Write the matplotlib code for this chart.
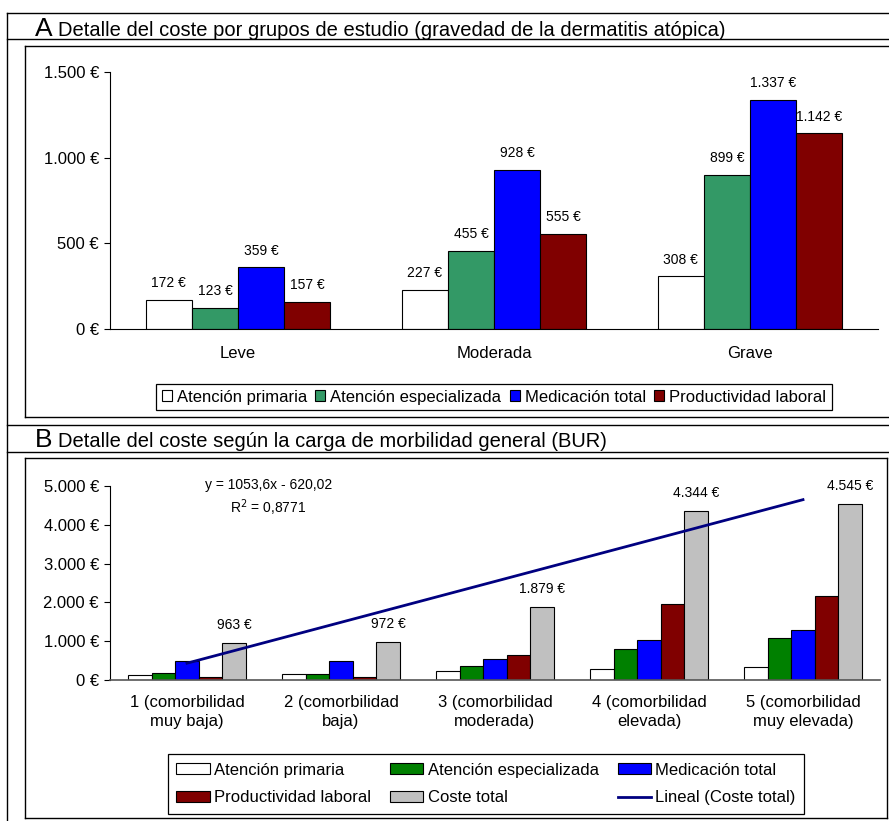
import matplotlib
matplotlib.use("Agg")
import matplotlib.pyplot as plt
from matplotlib.lines import Line2D
from matplotlib.patches import Patch
from matplotlib.ticker import FuncFormatter, MultipleLocator
import numpy as np

plt.rcParams.update({
    "font.family": ["Liberation Sans", "DejaVu Sans"],
    "font.size": 12,
    "axes.spines.top": False,
    "axes.spines.right": False,
})

W, H = 889, 821  # output size in pixels

# --- panel A: cost by severity of atopic dermatitis ---
SEVERITY = ["Leve", "Moderada", "Grave"]
A_PRIMARIA = [172, 227, 308]
A_ESPECIALIZADA = [123, 455, 899]
A_MEDICACION = [359, 928, 1337]
A_PRODUCTIVIDAD = [157, 555, 1142]

# --- panel B: cost by general morbidity burden (BUR) ---
BUR = ["1 (comorbilidad\nmuy baja)", "2 (comorbilidad\nbaja)", "3 (comorbilidad\nmoderada)",
       "4 (comorbilidad\nelevada)", "5 (comorbilidad\nmuy elevada)"]
B_PRIMARIA = [120, 146, 223, 292, 326]
B_ESPECIALIZADA = [189, 146, 360, 798, 1072]
B_MEDICACION = [497, 497, 532, 1029, 1278]
B_PRODUCTIVIDAD = [86, 86, 635, 1955, 2153]
B_TOTAL = [963, 972, 1879, 4344, 4545]
TREND_TEXT = "y = 1053,6x - 620,02\nR$^2$ = 0,8771"

C_PRIM = "white"
C_ESP_A = "#339966"
C_ESP_B = "#008000"
C_MED = "#0000FF"
C_PROD = "#800000"
C_TOT = "#C0C0C0"
C_TREND = "#000080"


def euro(v, _pos=None):
    return f"{v:,.0f} €".replace(",", ".")


def px_line(fig, x0, x1, y0, y1, lw=1.0):
    fig.add_artist(Line2D([x0 / W, x1 / W], [1 - y0 / H, 1 - y1 / H],
                          transform=fig.transFigure, color="black", lw=lw))


def px_axes(fig, x0, x1, y_top, y_bot):
    return fig.add_axes([x0 / W, 1 - y_bot / H, (x1 - x0) / W, (y_bot - y_top) / H])


def style_axis(ax, top, step, xpad):
    ax.set_ylim(0, top)
    ax.yaxis.set_major_locator(MultipleLocator(step))
    ax.yaxis.set_major_formatter(FuncFormatter(euro))
    ax.tick_params(axis="y", direction="out", length=4, width=0.8, pad=4, labelsize=12)
    ax.tick_params(axis="x", length=0, pad=xpad, labelsize=12)
    ax.spines["left"].set_bounds(0, top)
    ax.spines["left"].set_linewidth(0.8)
    ax.spines["bottom"].set_color("#555555")
    ax.spines["bottom"].set_linewidth(1.2)
    ax.patch.set_alpha(0)


fig = plt.figure(figsize=(W / 100, H / 100), dpi=100)

# frame lines of the composite figure
px_line(fig, 7, 7, 13, 821)
px_line(fig, 7, 889, 13, 13)
px_line(fig, 7, 889, 39, 39)
px_line(fig, 25, 889, 46, 46)
px_line(fig, 25, 25, 46, 417)
px_line(fig, 25, 889, 417, 417)
px_line(fig, 7, 889, 425, 425)
px_line(fig, 7, 889, 452, 452)
px_line(fig, 25, 887, 458, 458)
px_line(fig, 25, 25, 458, 818)
px_line(fig, 887, 887, 458, 818)
px_line(fig, 25, 887, 818, 818)

# titles
fig.text(35 / W, 1 - 36 / H, "A", fontsize=19, va="baseline")
fig.text(58 / W, 1 - 36 / H, "Detalle del coste por grupos de estudio (gravedad de la dermatitis atópica)",
         fontsize=14.5, va="baseline")
fig.text(35 / W, 1 - 447 / H, "B", fontsize=19, va="baseline")
fig.text(58 / W, 1 - 447 / H, "Detalle del coste según la carga de morbilidad general (BUR)",
         fontsize=14.5, va="baseline")

# ---------------- panel A ----------------
axA = px_axes(fig, 110, 878, 72, 329)
xa = np.arange(len(SEVERITY))
wa = 0.18
series_a = [("Atención primaria", A_PRIMARIA, C_PRIM),
            ("Atención especializada", A_ESPECIALIZADA, C_ESP_A),
            ("Medicación total", A_MEDICACION, C_MED),
            ("Productividad laboral", A_PRODUCTIVIDAD, C_PROD)]
for i, (name, vals, col) in enumerate(series_a):
    pos = xa + (i - 1.5) * wa
    axA.bar(pos, vals, wa, color=col, edgecolor="black", linewidth=0.8, label=name)
    for x, v in zip(pos, vals):
        axA.annotate(euro(v), (x, v), xytext=(0, 7), textcoords="offset points",
                     ha="center", va="bottom", fontsize=10)
axA.set_xlim(-0.5, len(SEVERITY) - 0.5)
axA.set_xticks(xa)
axA.set_xticklabels(SEVERITY)
style_axis(axA, 1500, 500, xpad=12)
axA.spines["bottom"].set_color("black")
axA.spines["bottom"].set_linewidth(0.8)

handles_a = [Patch(facecolor=c, edgecolor="black", linewidth=0.8) for _, _, c in series_a]
legA = fig.legend(handles_a, [n for n, _, _ in series_a], loc="center",
                  bbox_to_anchor=(494 / W, 1 - 397 / H), ncol=4, fontsize=12,
                  handlelength=0.6, handleheight=0.6, handletextpad=0.3,
                  columnspacing=0.5, borderpad=0.35, fancybox=False,
                  edgecolor="black", framealpha=1)
legA.get_frame().set_linewidth(0.9)

# ---------------- panel B ----------------
axB = px_axes(fig, 110, 880, 486, 680)
xb = np.arange(1, len(BUR) + 1)
wb = 0.153
series_b = [("Atención primaria", B_PRIMARIA, C_PRIM),
            ("Atención especializada", B_ESPECIALIZADA, C_ESP_B),
            ("Medicación total", B_MEDICACION, C_MED),
            ("Productividad laboral", B_PRODUCTIVIDAD, C_PROD),
            ("Coste total", B_TOTAL, C_TOT)]
for i, (name, vals, col) in enumerate(series_b):
    pos = xb + (i - 2) * wb
    axB.bar(pos, vals, wb, color=col, edgecolor="black", linewidth=0.8, label=name)
for x, v in zip(xb + 2 * wb, B_TOTAL):
    axB.annotate(euro(v), (x, v), xytext=(0, 8), textcoords="offset points",
                 ha="center", va="bottom", fontsize=10)

slope, icpt = np.polyfit(xb, B_TOTAL, 1)
axB.plot(xb, slope * xb + icpt, color=C_TREND, lw=2, label="Lineal (Coste total)")
axB.text(1.53, 4690, TREND_TEXT, ha="center", va="center", fontsize=10, linespacing=1.35)

axB.set_xlim(0.5, len(BUR) + 0.5)
axB.set_xticks(xb)
axB.set_xticklabels(BUR, linespacing=1.3)
style_axis(axB, 5000, 1000, xpad=11)

hb = [Patch(facecolor=c, edgecolor="black", linewidth=0.8) for _, _, c in series_b]
hl = Line2D([], [], color=C_TREND, lw=2)
names_b = [n for n, _, _ in series_b]
# legend fills column-wise: order entries so rows read AP, AE, Med / Prod, Total, Lineal
order_h = [hb[0], hb[3], hb[1], hb[4], hb[2], hl]
order_n = [names_b[0], names_b[3], names_b[1], names_b[4], names_b[2], "Lineal (Coste total)"]
legB = fig.legend(order_h, order_n, loc="center", bbox_to_anchor=(486 / W, 1 - 784 / H),
                  ncol=3, fontsize=12, handlelength=2.0, handleheight=0.65,
                  handletextpad=0.25, columnspacing=1.15, labelspacing=0.75,
                  borderpad=0.5, fancybox=False, edgecolor="black", framealpha=1)
legB.get_frame().set_linewidth(0.9)

fig.savefig("out.png", dpi=100)
